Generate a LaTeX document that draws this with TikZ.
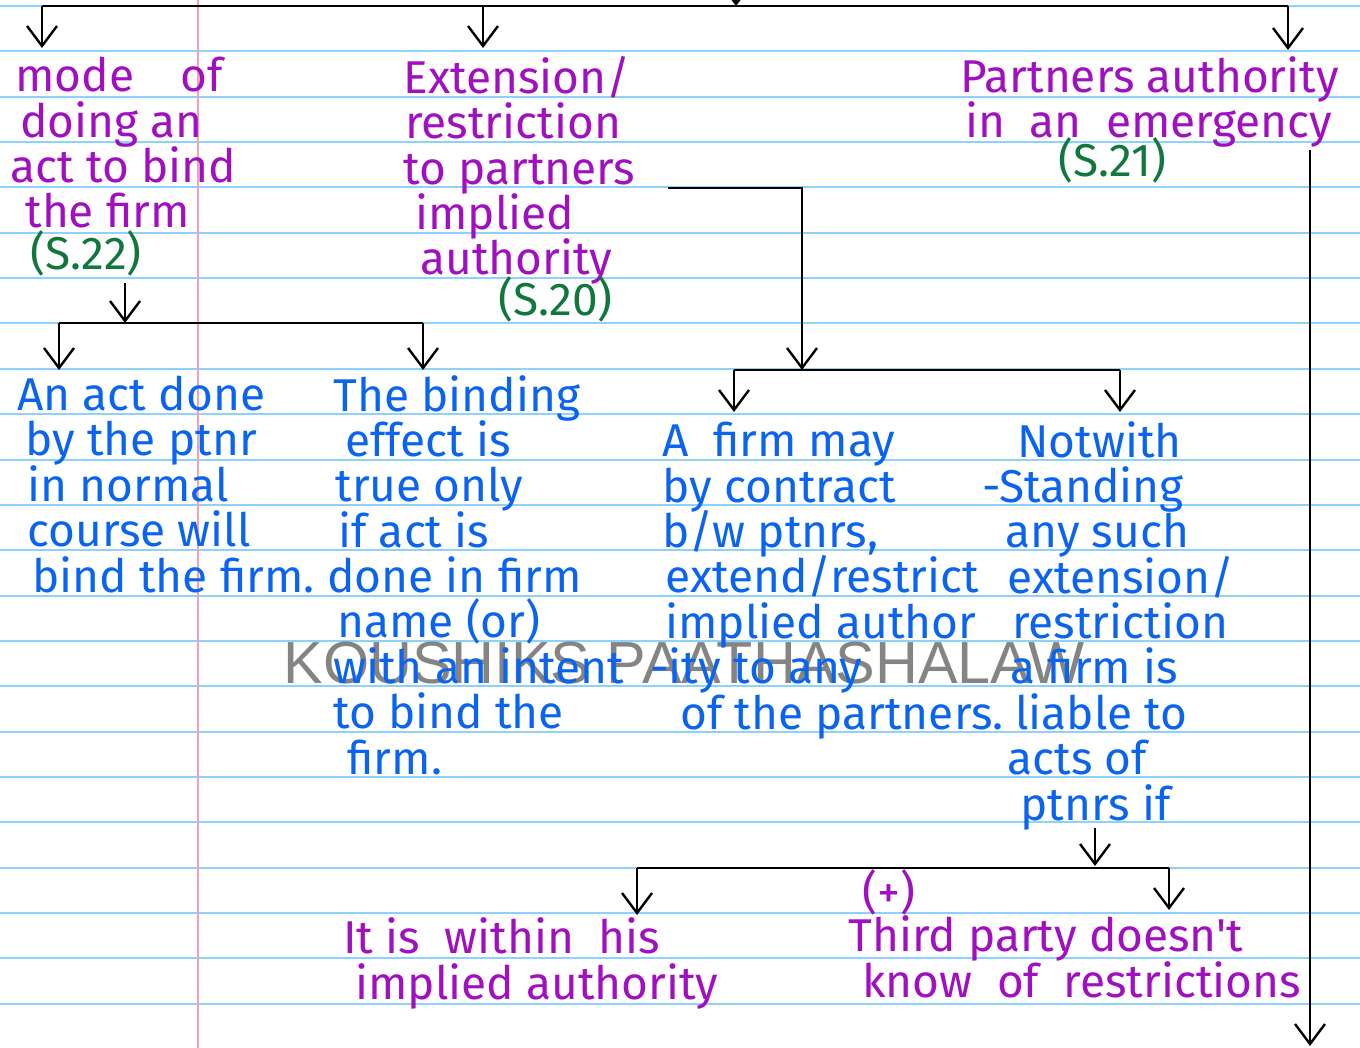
\documentclass[tikz,border=0pt]{standalone}
\usepackage{fontspec}
\usetikzlibrary{arrows.meta}
\newfontfamily\handfont{Fira Sans}
\newfontfamily\markfont{Liberation Sans}
\newcommand\handsize{\fontsize{23}{22.68}\selectfont\lineskiplimit=-20pt\relax}
\definecolor{inkpurple}{RGB}{160,16,192}
\definecolor{inkgreen}{RGB}{16,120,60}
\definecolor{inkblue}{RGB}{10,100,240}
\definecolor{ruleblue}{RGB}{140,210,250}
\definecolor{marginred}{RGB}{245,160,180}
\tikzset{
  note/.style={font=\handfont\handsize, align=left, anchor=base west, inner sep=0pt},
  head/.style={note, text=inkpurple},
  body/.style={note, text=inkblue},
  sect/.style={note, text=inkgreen},
  arr/.style={-{Straight Barb[length=10pt,width=15pt]}, line width=1.2pt},
  bar/.style={line width=1.3pt},
}

\begin{document}
\begin{tikzpicture}[x=0.5pt,y=-0.5pt]
    \useasboundingbox (0,0) rectangle (1360,1048);

    % paper
    \fill[white] (0,0) rectangle (1360,1048);
    \foreach \k in {0,...,22}
        \draw[ruleblue, line width=1pt] (0,{6+45.35*\k}) -- (1360,{6+45.35*\k});
    \draw[marginred, line width=1pt] (198,0) -- (198,1048);

    % watermark
    \node[anchor=base west, inner sep=0pt, text=black!60, opacity=0.8,
          font=\markfont\fontsize{29.7}{30}\selectfont] (wmark) at (283,683) {KOUSHIKS PAATHASHALAW};

    % headings (anchored at the baseline of the last line)
    \node[head] (mode) at (10,228) {\hspace*{2.5pt}mode\quad of\\
        \hspace*{5pt}doing an\\act to bind\\\hspace*{7.5pt}the firm};
    \node[sect] (s22) at (30,270) {(S.22)};
    \node[head] (extn) at (403,275) {Extension/\\\hspace*{1pt}restriction\\to partners\\
        \hspace*{6pt}implied\\\hspace*{8.5pt}authority};
    \node[sect] (s20) at (498,315) {(S.20)};
    \node[head] (emerg) at (960,138) {Partners authority\\\hspace*{2.5pt}in\ \ an\ \ emergency};
    \node[sect] (s21) at (1058,177) {(S.21)};

    % second row
    \node[body] (actdone) at (17,592) {An act done\\\hspace*{4pt}by the ptnr\\
        \hspace*{5pt}in\ normal\\\hspace*{5pt}course will\\\hspace*{7.5pt}bind the firm.};
    \node[body] (binding) at (327,774) {\hspace*{3pt}The binding\\\hspace*{9pt}effect is\\
        \hspace*{4pt}true only\\\hspace*{5.5pt}if act is\\done in firm\\\hspace*{5pt}name (or)\\
        \hspace*{3pt}with an intent\\\hspace*{3pt}to bind the\\\hspace*{10pt}firm.};
    \node[body] (firmmay) at (650,729) {\hspace*{6pt}A\ \ firm may\\\hspace*{6pt}by contract\\
        \hspace*{6pt}b/w ptnrs,\\\hspace*{7.5pt}extend/restrict\\\hspace*{7.5pt}implied author\\
        -ity to any\\\hspace*{15pt}of the partners.};
    \node[body] (notwith) at (982,820) {\hspace*{17.5pt}Notwith\\-Standing\\
        \hspace*{11.5pt}any such\\\hspace*{12.5pt}extension/\\\hspace*{15pt}restriction\\
        \hspace*{14pt}a firm is\\\hspace*{16.5pt}liable to\\\hspace*{12.5pt}acts of\\
        \hspace*{19pt}ptnrs if};

    % third row
    \node[head] (plus) at (862,908) {(+)};
    \node[head] (within) at (343,999) {It is\ \ within\ \ his\\\hspace*{6pt}implied authority};
    \node[head] (third) at (848,997) {Third party doesn't\\\hspace*{7pt}know\ \ of\ \ restrictions};

    % connectors
    \coordinate (feed) at (736,-30);
    \coordinate (topmid) at (736,6);
    \coordinate (topL) at (42,6);
    \coordinate (topM) at (483,6);
    \coordinate (topR) at (1288,6);
    \draw[arr] (feed) -- (topmid);
    \draw[bar] (topL) -- (topR);
    \draw[arr] (topL) -- (42,48);
    \draw[arr] (topM) -- (483,48);
    \draw[arr] (topR) -- (1288,50);

    \coordinate (modeout) at (125,283);
    \coordinate (modebar) at (125,323);
    \coordinate (modeL) at (59,323);
    \coordinate (modeR) at (423,323);
    \draw[arr] (modeout) -- (modebar);
    \draw[bar] (modeL) -- (modeR);
    \draw[arr] (modeL) -- (59,370);
    \draw[arr] (modeR) -- (423,370);

    \coordinate (extnout) at (668,188);
    \coordinate (extnbar) at (802,370);
    \coordinate (extnL) at (734,370);
    \coordinate (extnR) at (1120,370);
    \draw[arr] (extnout) -| (extnbar);
    \draw[bar] (extnL) -- (extnR);
    \draw[arr] (extnL) -- (734,412);
    \draw[arr] (extnR) -- (1120,412);

    \coordinate (emergout) at (1310,150);
    \coordinate (emergend) at (1310,1046);
    \draw[arr] (emergout) -- (emergend);

    \coordinate (notout) at (1095,828);
    \coordinate (notbar) at (1095,866);
    \coordinate (notL) at (637,868);
    \coordinate (notR) at (1169,868);
    \draw[arr] (notout) -- (notbar);
    \draw[bar] (notL) -- (notR);
    \draw[arr] (notL) -- (637,915);
    \draw[arr] (notR) -- (1169,910);
\end{tikzpicture}
\end{document}
